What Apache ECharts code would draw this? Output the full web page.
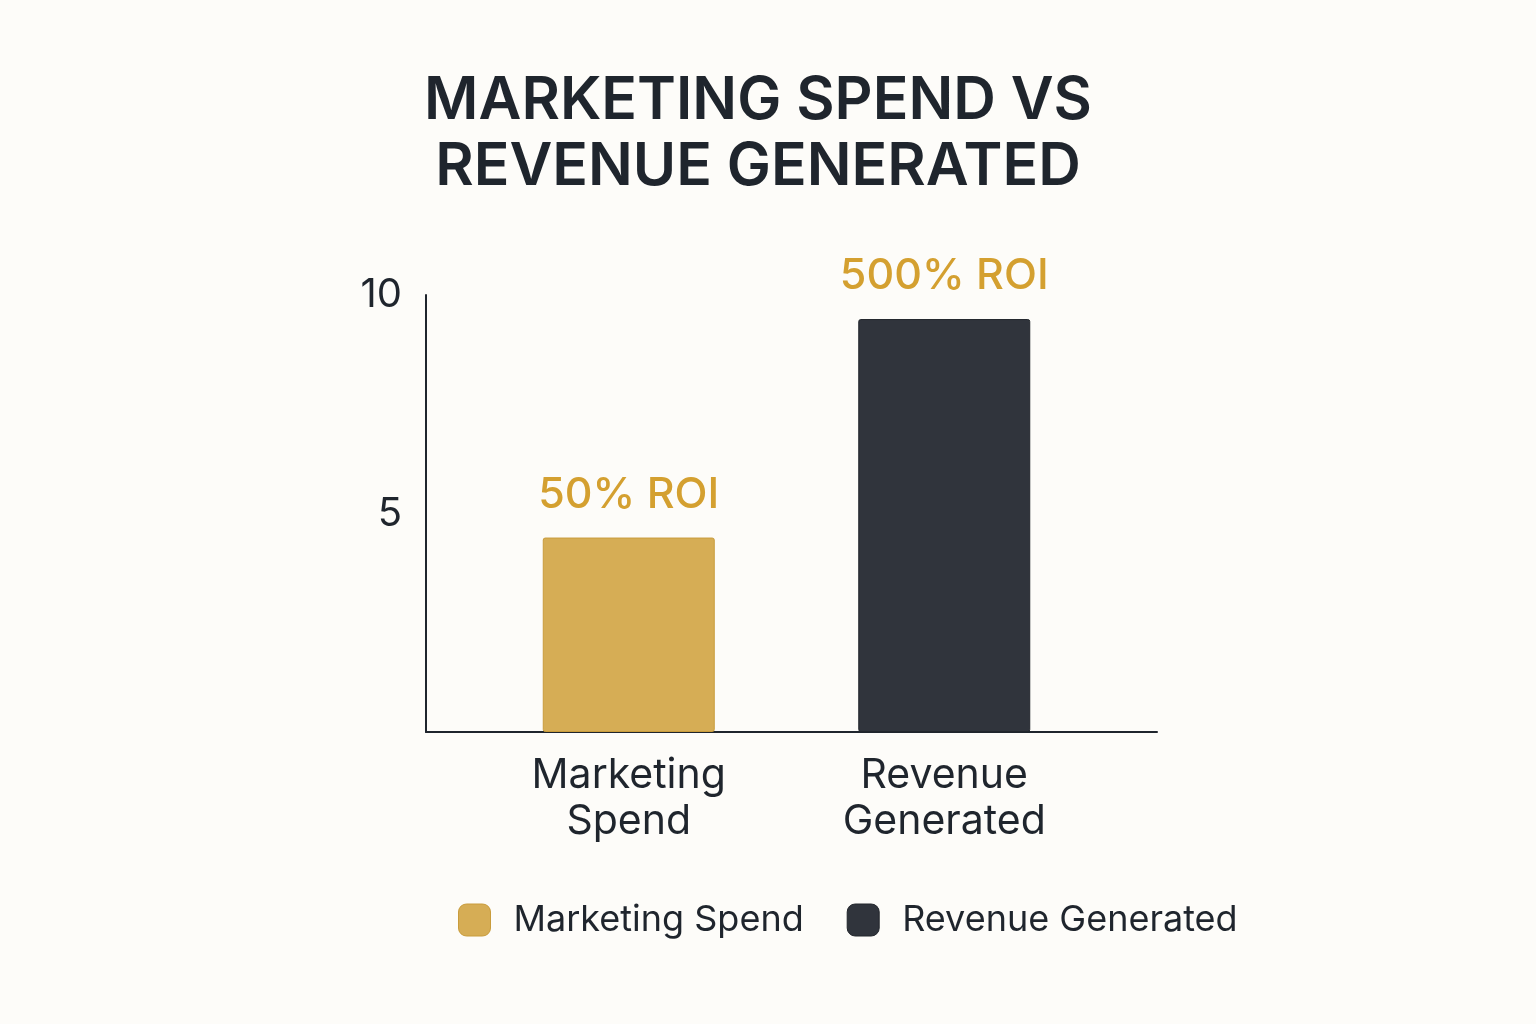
<!DOCTYPE html>
<html>
<head>
<meta charset="utf-8">
<script src="https://cdn.jsdelivr.net/npm/echarts@6/dist/echarts.min.js"></script>
<style>
html,body{margin:0;padding:0;background:#fdfcf9;}
#chart{width:1536px;height:1024px;}
</style>
</head>
<body>
<div id="chart"></div>
<script>
const categories = ['Marketing\nSpend', 'Revenue\nGenerated'];
const seriesNames = ['Marketing Spend', 'Revenue Generated'];
const values = [4.45, 9.45];
const roiLabels = ['50% ROI', '500% ROI'];
const colors = ['#d6ad55', '#30343c'];
const borderColors = ['#c99c3c', '#22262c'];
const yMin = 0, yMax = 10, yInterval = 5;

const chart = echarts.init(document.getElementById('chart'));
const font = 'Inter, "Noto Sans", sans-serif';

const series = seriesNames.map((name, i) => ({
  name: name,
  type: 'bar',
  xAxisIndex: 0,
  yAxisIndex: 0,
  stack: 'all',
  barWidth: 172,
  data: values.map((v, j) => j === i ? v : null),
  itemStyle: { color: colors[i], borderColor: borderColors[i], borderWidth: 1, borderRadius: 2 },
  label: {
    show: true,
    position: 'top',
    distance: 21,
    formatter: () => roiLabels[i],
    color: '#d4a030',
    fontFamily: font,
    fontWeight: 500,
    fontSize: 43
  }
}));

chart.setOption({
  backgroundColor: '#fdfcf9',
  animation: false,
  title: {
    text: 'MARKETING SPEND VS\nREVENUE GENERATED',
    left: 753,
    textAlign: 'center',
    top: 63,
    textStyle: { fontFamily: font, fontWeight: 600, fontSize: 59, color: '#1f252d', lineHeight: 66 }
  },
  legend: {
    bottom: 81,
    left: 453,
    itemWidth: 32,
    itemHeight: 32,
    itemGap: 43,
    icon: 'roundRect',
    data: seriesNames,
    textStyle: { fontFamily: font, fontSize: 36, color: '#1f252d', padding: [0, 0, 0, 18] },
    itemStyle: { borderWidth: 1 }
  },
  grid: [
    { left: 471, right: 434, top: 295, bottom: 292 },
    { left: 426, right: 379, top: 295, bottom: 292 }
  ],
  xAxis: [
    {
      type: 'category', gridIndex: 0, data: categories,
      axisLine: { show: false }, axisTick: { show: false },
      axisLabel: { fontFamily: font, fontSize: 41, color: '#1f252d', lineHeight: 46, margin: 21 }
    },
    {
      type: 'category', gridIndex: 1, data: categories,
      axisLine: { show: true, lineStyle: { color: '#1f252d', width: 2 } },
      axisTick: { show: false }, axisLabel: { show: false }
    }
  ],
  yAxis: [
    { type: 'value', gridIndex: 0, min: yMin, max: yMax, interval: yInterval, show: false },
    {
      type: 'value', gridIndex: 1, min: yMin, max: yMax, interval: yInterval,
      axisLine: { show: true, lineStyle: { color: '#1f252d', width: 2 } },
      axisTick: { show: false }, splitLine: { show: false },
      axisLabel: { showMinLabel: false, fontFamily: font, fontSize: 40, color: '#1f252d', margin: 24 }
    }
  ],
  series: series
});
</script>
</body>
</html>
